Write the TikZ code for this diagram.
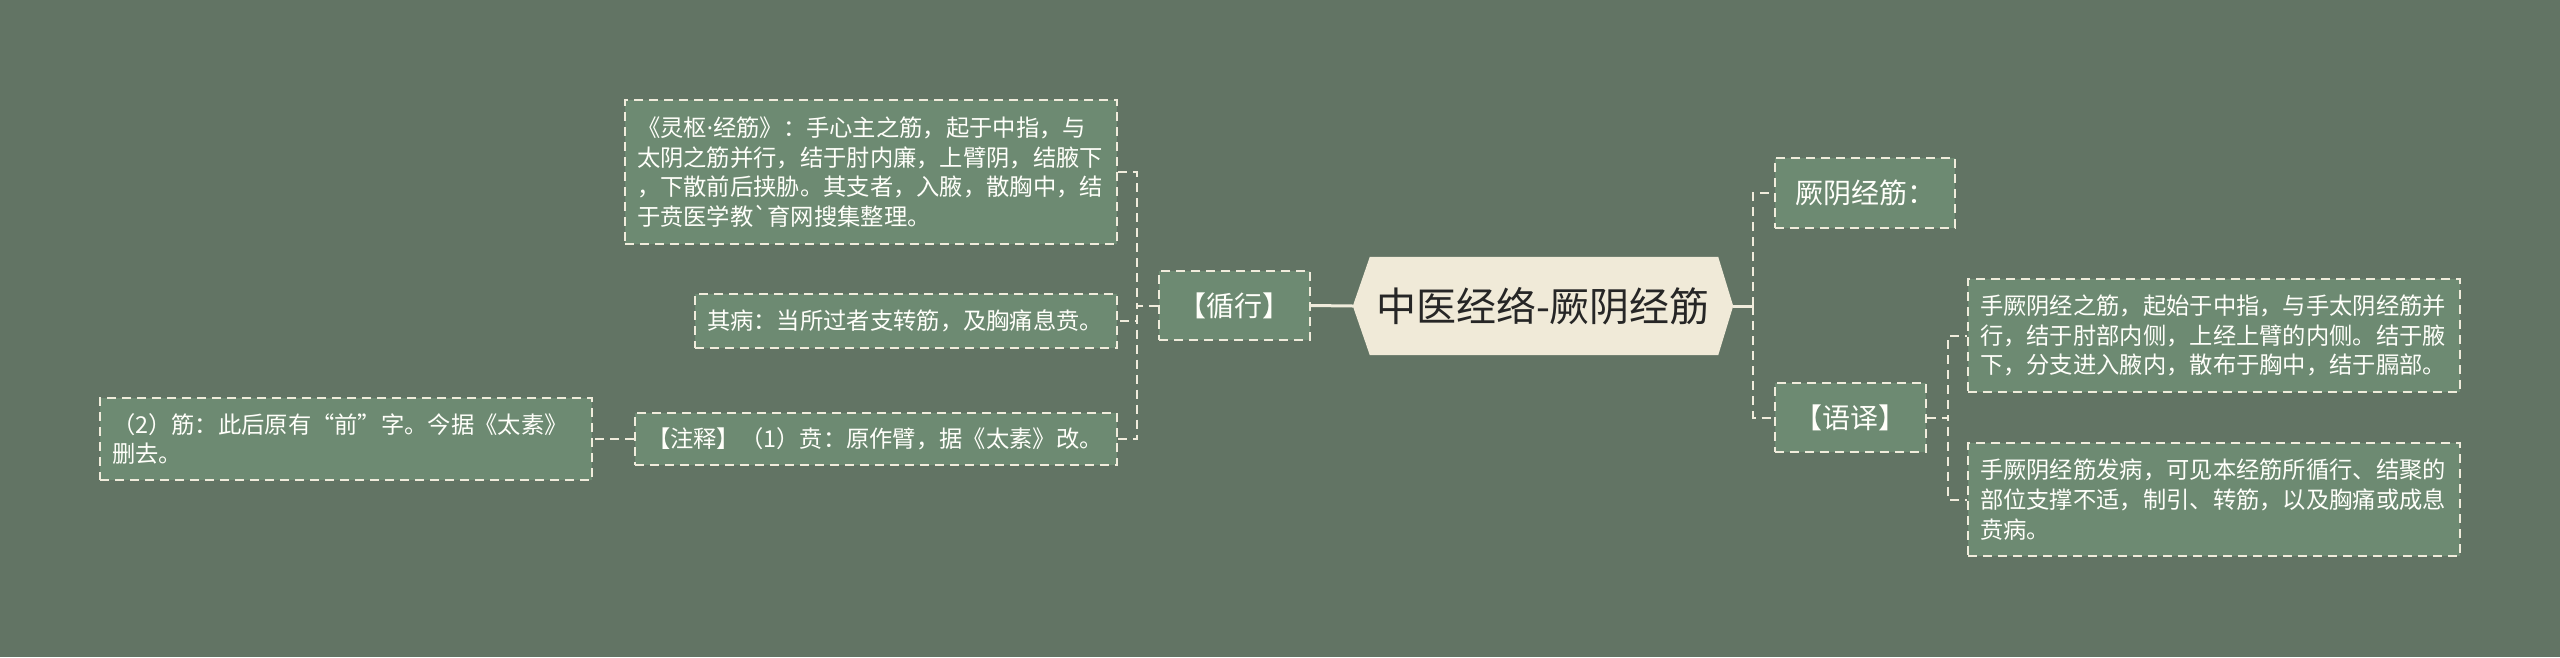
\documentclass[tikz,border=0pt]{standalone}
\usepackage{fontspec}
\newfontfamily\cjk{Noto Sans CJK SC}
\newfontfamily\latinf{Noto Sans}
\usetikzlibrary{backgrounds}
\definecolor{bgc}{RGB}{98,116,100}
\definecolor{boxc}{RGB}{109,138,114}
\definecolor{linec}{RGB}{240,236,220}
\definecolor{rootc}{RGB}{240,234,216}
\definecolor{roottxt}{RGB}{38,38,38}
\definecolor{txtc}{RGB}{255,255,250}
\tikzset{
  leaf/.style={draw=linec, line width=2pt, dash pattern=on 9pt off 6pt, fill=boxc, text=txtc,
    font=\cjk\fontsize{23.3}{29.7}\selectfont, align=left, inner xsep=12pt, inner ysep=0pt},
  topic/.style={draw=linec, line width=2pt, dash pattern=on 9pt off 6pt, fill=boxc, text=txtc,
    font=\cjk\fontsize{28}{34}\selectfont, align=center, inner sep=0pt},
  root/.style={text=roottxt, font=\cjk\fontsize{40}{48}\selectfont, inner sep=0pt},
  conn/.style={draw=linec, line width=2pt, dash pattern=on 9pt off 6pt},
  solidconn/.style={draw=linec, line width=3pt}
}
\begin{document}
\begin{tikzpicture}[x=1pt,y=-1pt]
\useasboundingbox (0,0) rectangle (2560,657);
% root
\node[root, minimum width=380, minimum height=98] (root) at (1543,306) {中医经络-厥阴经筋};
% left branch
\node[topic, minimum width=151, minimum height=69] (xh) at (1234.5,305.5) {【循行】};
\node[leaf, text width=468, minimum height=144] (A) at (871,172) {《灵枢{\latinf ·}经筋》：手心主之筋，起于中指，与\\太阴之筋并行，结于肘内廉，上臂阴，结腋下\\，下散前后挟胁。其支者，入腋，散胸中，结\\于贲医学教\symbol{"60}育网搜集整理。};
\node[leaf, text width=398, minimum height=54] (B) at (906,321) {其病：当所过者支转筋，及胸痛息贲。};
\node[leaf, text width=458, minimum height=52] (N) at (876,439) {【注释】（1）贲：原作臂，据《太素》改。};
\node[leaf, text width=468, minimum height=82] (E) at (346,439) {（2）筋：此后原有“前”字。今据《太素》\\删去。};
% right branch
\node[topic, minimum width=180, minimum height=70] (jy) at (1865,193) {厥阴经筋：};
\node[topic, minimum width=151, minimum height=69] (yy) at (1850.5,417.5) {【语译】};
\node[leaf, text width=468, minimum height=113] (C) at (2214,335.5) {手厥阴经之筋，起始于中指，与手太阴经筋并\\行，结于肘部内侧，上经上臂的内侧。结于腋\\下，分支进入腋内，散布于胸中，结于膈部。};
\node[leaf, text width=468, minimum height=113] (D) at (2214,499.5) {手厥阴经筋发病，可见本经筋所循行、结聚的\\部位支撑不适，制引、转筋，以及胸痛或成息\\贲病。};
% connectors
\draw[solidconn] (root.west) -- (xh.east);
\draw[conn] (xh.west) -- ++(-21,0) |- (A.east);
\draw[conn] (xh.west) -- ++(-21,0) |- (B.east);
\draw[conn] (xh.west) -- ++(-21,0) |- (N.east);
\draw[conn] (N.west) -- (E.east);
\draw[solidconn] (root.east) -- ++(20,0) coordinate (rs);
\draw[conn] (rs) |- (jy.west);
\draw[conn] (rs) |- (yy.west);
\draw[conn] (yy.east) -- ++(21,0) |- (C.west);
\draw[conn] (yy.east) -- ++(21,0) |- (D.west);
\begin{scope}[on background layer]
\fill[bgc] (0,0) rectangle (2560,657);
\fill[rootc] (root.west) -- ([xshift=17pt]root.north west) -- ([xshift=-15pt]root.north east) -- (root.east) -- ([xshift=-15pt]root.south east) -- ([xshift=17pt]root.south west) -- cycle;
\end{scope}
\end{tikzpicture}
\end{document}
